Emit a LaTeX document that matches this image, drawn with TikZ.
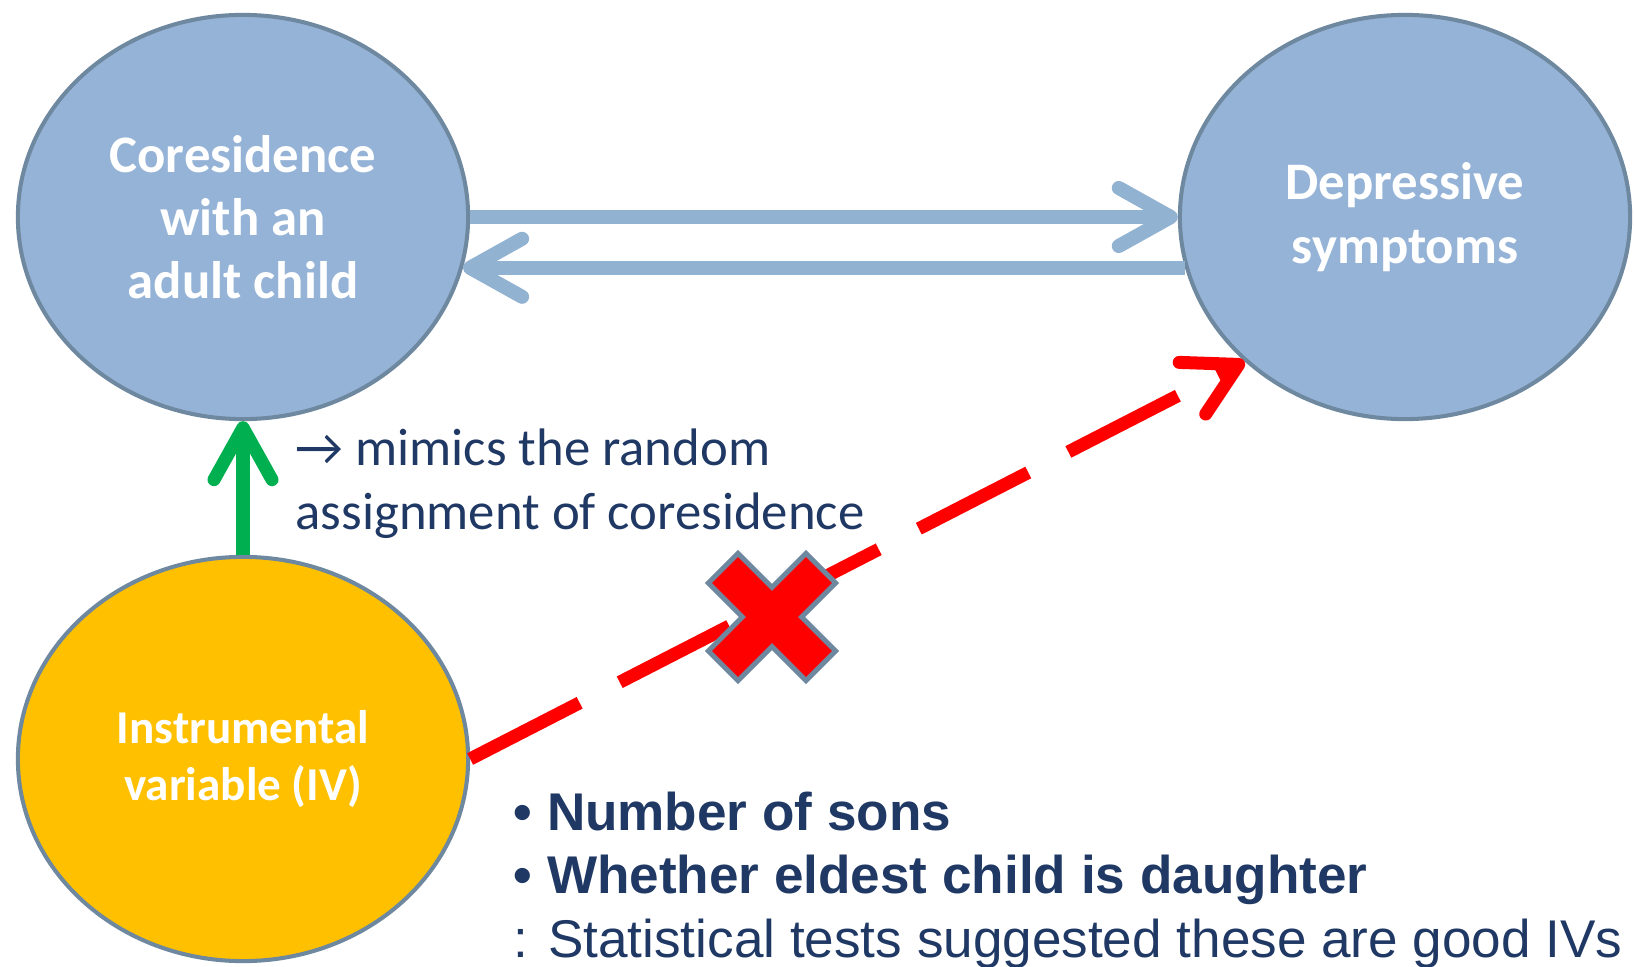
\documentclass[tikz,border=0pt]{standalone}
\usepackage{fontspec}
\setmainfont{Carlito}
\newfontfamily\arialfont{Liberation Sans}
\usetikzlibrary{arrows.meta,shapes.geometric,calc}

\definecolor{ovalblue}{HTML}{95B3D7}
\definecolor{ovalline}{HTML}{6E88A0}
\definecolor{linkblue}{HTML}{92B2D2}
\definecolor{ivorange}{HTML}{FFC000}
\definecolor{okgreen}{HTML}{00B050}
\definecolor{navytext}{HTML}{1F3864}

\begin{document}
\begin{tikzpicture}[
    x=0.01cm, y=0.01cm,
    every node/.style={font=\fontsize{15pt}{18pt}\selectfont},
    oval/.style={draw=ovalline,line width=1.15pt,ellipse,fill=ovalblue,
                 minimum width=4.5cm,minimum height=4.04cm,inner sep=0pt,
                 align=center,text=white,font=\bfseries\fontsize{15pt}{18pt}\selectfont},
    note/.style={text=navytext,align=left,inner sep=0pt},
    barb/.style={-{Straight Barb[length=5.2mm,width=5.8mm,round]}},
    link/.style={barb,line width=4pt,linkblue},
    ivlink/.style={barb,line width=3.7pt,okgreen},
    nolink/.style={barb,line width=3.7pt,red,dash pattern=on 1.23cm off 0.45cm},
    nox/.style={draw=ovalline,line width=1.4pt,fill=red,line join=miter}
]
\useasboundingbox (0,0) rectangle (1634,966);

% Ovals
\node[oval] (core) at (243,749) {Coresidence\\with an\\adult child};
\node[oval] (dep) at (1405,749) {Depressive\\symptoms};
\node[oval,fill=ivorange,font=\bfseries\fontsize{13.4pt}{16.2pt}\selectfont]
    (iv) at (243,207) {Instrumental\\variable (IV)};

% Two-way link between coresidence and symptoms
\draw[link] (core.east) -- (dep.west);
\draw[link] (dep.193) -- (core.-13);

% Instrument drives coresidence
\draw[ivlink] (iv.north) -- (core.south);
\node[note,anchor=base west] (mimic) at (295,437)
    {→ mimics the random\\assignment of coresidence};

% No direct path from the instrument
\draw[nolink] (iv.east) -- (dep.222);
\begin{scope}[shift={(772,349)},rotate=45]
  \draw[nox] (69,21) -- (21,21) -- (21,69) -- (-21,69) -- (-21,21) -- (-69,21)
     -- (-69,-21) -- (-21,-21) -- (-21,-69) -- (21,-69) -- (21,-21) -- (69,-21) -- cycle;
\end{scope}

% Instruments used
\node[note,anchor=base west,font=\arialfont\fontsize{15.1pt}{18pt}\selectfont] (ivlist) at (513,9)
    {\textbf{• Number of sons}\\\textbf{• Whether eldest child is daughter}\\: Statistical tests suggested these are good IVs};

\end{tikzpicture}
\end{document}
